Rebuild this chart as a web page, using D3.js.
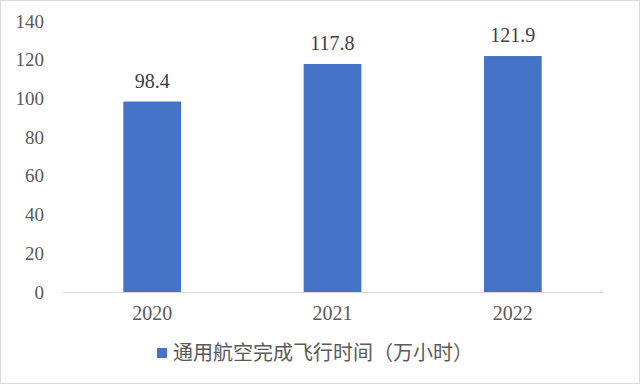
<!DOCTYPE html>
<html>
<head>
<meta charset="utf-8">
<script src="https://cdn.jsdelivr.net/npm/d3@7"></script>
<style>
  body { margin: 0; background: #fff; }
  svg { display: block; }
</style>
</head>
<body>
<svg></svg>
<script>
const years = ['2020', '2021', '2022'];
const hours = [98.4, 117.8, 121.9];
const yTicks = [0, 20, 40, 60, 80, 100, 120, 140];
const seriesName = '通用航空完成飞行时间（万小时）';

const width = 640;
const height = 385;
const margin = { top: 21, right: 37, bottom: 93, left: 62 };

const svg = d3.select('svg')
  .attr('width', width)
  .attr('height', height);

// outer frame
svg.append('rect')
  .attr('x', 0.5).attr('y', 0.5)
  .attr('width', width - 1).attr('height', height - 2)
  .attr('fill', '#fff')
  .attr('stroke', '#d9d9d9');

const x = d3.scaleBand()
  .domain(years)
  .range([margin.left, width - margin.right])
  .paddingInner(0.68)
  .paddingOuter(0.34);

const y = d3.scaleLinear()
  .domain([0, 140])
  .range([height - margin.bottom, margin.top]);

// y axis labels
const yAxis = d3.axisLeft(y).tickValues(yTicks).tickSize(0).tickPadding(0);
const gy = svg.append('g')
  .attr('transform', `translate(44,0)`)
  .call(yAxis);
gy.select('.domain').remove();
gy.selectAll('text')
  .attr('font-family', '"Liberation Serif", "DejaVu Serif", serif')
  .attr('font-size', 19)
  .attr('fill', '#595959');

// bars
svg.append('g')
  .selectAll('rect')
  .data(hours)
  .enter()
  .append('rect')
  .attr('x', (d, i) => x(years[i]))
  .attr('width', x.bandwidth())
  .attr('y', d => y(d))
  .attr('height', d => y(0) - y(d))
  .attr('fill', '#4472c4');

// value labels
svg.append('g')
  .selectAll('text')
  .data(hours)
  .enter()
  .append('text')
  .attr('x', (d, i) => x(years[i]) + x.bandwidth() / 2)
  .attr('y', d => y(d) - 14)
  .attr('text-anchor', 'middle')
  .attr('font-family', '"Liberation Serif", "DejaVu Serif", serif')
  .attr('font-size', 20)
  .attr('fill', '#404040')
  .text(d => d.toFixed(1));

// x axis
const xAxis = d3.axisBottom(x).tickSize(0).tickPadding(14);
const gx = svg.append('g')
  .attr('transform', `translate(0,${y(0)})`)
  .call(xAxis);
gx.select('.domain').attr('stroke', '#d9d9d9').attr('stroke-width', 1);
gx.selectAll('text')
  .attr('font-family', '"Liberation Serif", "DejaVu Serif", serif')
  .attr('font-size', 20)
  .attr('fill', '#595959');

// legend
const legend = svg.append('g').attr('transform', 'translate(157,353)');
legend.append('rect')
  .attr('x', 0).attr('y', -5)
  .attr('width', 10).attr('height', 10)
  .attr('fill', '#4472c4');
legend.append('text')
  .attr('x', 16)
  .attr('y', 0)
  .attr('dy', '0.36em')
  .attr('font-family', '"Noto Sans CJK SC", sans-serif')
  .attr('font-size', 20)
  .attr('fill', '#595959')
  .text(seriesName);
</script>
</body>
</html>
